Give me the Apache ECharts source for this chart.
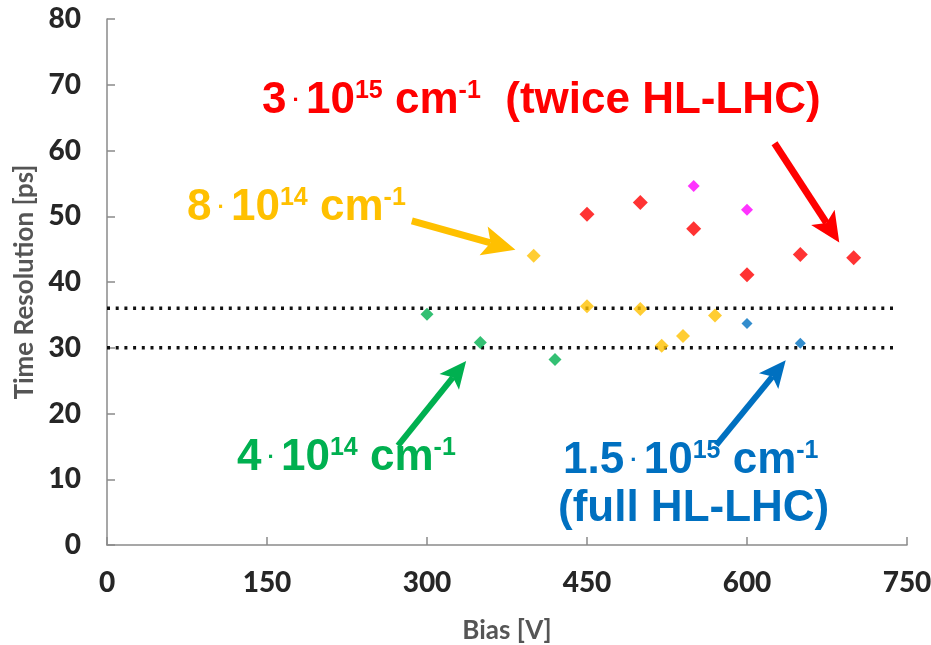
<!DOCTYPE html>
<html><head><meta charset="utf-8">
<script src="https://cdn.jsdelivr.net/npm/echarts@6/dist/echarts.min.js"></script>
<style>html,body{margin:0;padding:0;background:#fff}#c{width:931px;height:645px}</style>
</head><body><div id="c"></div>
<script>
// ---- data ----
const xMin = 0, xMax = 750, xStep = 150;
const yMin = 0, yMax = 80, yStep = 10;
const xName = 'Bias [V]';
const yName = 'Time Resolution [ps]';
// fluence groups: [bias V, time resolution ps]
const fluence4e14 = [[300, 35.1], [350, 30.8], [420, 28.2]];
const fluence8e14 = [[400, 44.0], [450, 36.3], [500, 35.9], [520, 30.3], [540, 31.8], [570, 34.9]];
const fluence15e15 = [[600, 33.7], [650, 30.7]];
const fluence3e15 = [[450, 50.3], [500, 52.1], [550, 48.1], [600, 41.1], [650, 44.2], [700, 43.7]];
const fluence3e15b = [[550, 54.6], [600, 51.0]];
const refLevels = [36, 30];
const refLineEnd = 738;
// annotation arrows in data coordinates: [tail, tip]
const arrowRed = [[625.8, 61.1], [686.5, 46.0]];
const arrowYellow = [[285.8, 49.3], [382.9, 44.9]];
const arrowGreen = [[272.8, 15.1], [336.7, 28.0]];
const arrowBlue = [[571.2, 15.2], [636.3, 28.1]];

const RED = '#FF0000', YEL = '#FFC000', GRN = '#00B050', BLU = '#0070C0', MAG = '#FF00FF';
const axisFont = 'Lato, "Liberation Sans", sans-serif';
const annFont = '"Liberation Sans", Arial, sans-serif';

const chart = echarts.init(document.getElementById('c'), null, {renderer: 'canvas'});

function scatter(name, data, color, size) {
  return {
    name, type: 'scatter', data, symbol: 'diamond', symbolSize: size,
    itemStyle: {color}, z: 3, emphasis: {disabled: true}
  };
}

const axisCommon = {
  axisLine: {show: true, lineStyle: {color: '#8a8a8a', width: 1.5}},
  axisTick: {show: true, inside: true, length: 8, lineStyle: {color: '#8a8a8a', width: 1.5}},
  splitLine: {show: false},
  nameTextStyle: {fontFamily: axisFont, fontWeight: 'bold', fontSize: 26, color: '#555555'}
};

const option = {
  animation: false,
  backgroundColor: '#ffffff',
  grid: {left: 107, right: 24, top: 19, bottom: 100, containLabel: false, outerBoundsMode: 'none'},
  xAxis: Object.assign({
    type: 'value', min: xMin, max: xMax, interval: xStep,
    name: xName, nameLocation: 'middle', nameGap: 73,
    axisLabel: {margin: 24, fontFamily: axisFont, fontWeight: 900, fontSize: 28, color: '#262626'}
  }, axisCommon),
  yAxis: Object.assign({
    type: 'value', min: yMin, max: yMax, interval: yStep,
    name: yName, nameLocation: 'middle', nameGap: 66, nameRotate: 90,
    axisLabel: {margin: 26, fontFamily: axisFont, fontWeight: 900, fontSize: 28, color: '#262626'}
  }, axisCommon),
  series: [
    ...refLevels.map(l => ({
      type: 'line', data: [[xMin, l], [refLineEnd, l]], symbol: 'none', silent: true, z: 2,
      lineStyle: {color: '#111', width: 3.5, type: [3, 5.7], cap: 'butt'}
    })),
    scatter('4e14', fluence4e14, GRN, 13),
    scatter('8e14', fluence8e14, YEL, 14),
    scatter('1.5e15', fluence15e15, BLU, 11),
    scatter('3e15', fluence3e15, RED, 15),
    scatter('3e15b', fluence3e15b, MAG, 12)
  ]
};
chart.setOption(option);

function arrowGraphic(a, color, lw, h, w) {
  const p0 = chart.convertToPixel({gridIndex: 0}, a[0]);
  const p1 = chart.convertToPixel({gridIndex: 0}, a[1]);
  const dx = p1[0] - p0[0], dy = p1[1] - p0[1];
  const L = Math.hypot(dx, dy);
  const ux = dx / L, uy = dy / L, px = -uy, py = ux;
  const bx = p1[0] - ux * h, by = p1[1] - uy * h;
  const nx = p1[0] - ux * h * 0.78, ny = p1[1] - uy * h * 0.78;
  return [
    {type: 'line', z: 10, shape: {x1: p0[0], y1: p0[1], x2: nx, y2: ny}, style: {stroke: color, lineWidth: lw}},
    {type: 'polygon', z: 10, shape: {points: [[p1[0], p1[1]], [bx + px * w / 2, by + py * w / 2], [nx, ny], [bx - px * w / 2, by - py * w / 2]]}, style: {fill: color}}
  ];
}

function richFor(color) {
  return {
    n: {fontFamily: annFont, fontWeight: 'bold', fontSize: 44, lineHeight: 44, color},
    d: {fontFamily: annFont, fontWeight: 'bold', fontSize: 22, color},
    s: {fontFamily: annFont, fontWeight: 'bold', fontSize: 25, lineHeight: 25, verticalAlign: 'top', color}
  };
}
function label(x, y, text, color) {
  return {type: 'text', x, y, z: 11, style: {text, rich: richFor(color), align: 'left', verticalAlign: 'top', fill: color}};
}

const graphics = [
  ...arrowGraphic(arrowRed, RED, 7, 30, 28),
  ...arrowGraphic(arrowYellow, YEL, 7, 33, 30),
  ...arrowGraphic(arrowGreen, GRN, 6, 27, 25),
  ...arrowGraphic(arrowBlue, BLU, 6, 27, 25),
  label(262, 79, '{n|3}{d| · }{n|10}{s|15}{n| cm}{s|-1}{n|  (twice HL-LHC)}', RED),
  label(187, 186, '{n|8}{d| · }{n|10}{s|14}{n| cm}{s|-1}', YEL),
  label(237, 436, '{n|4}{d| · }{n|10}{s|14}{n| cm}{s|-1}', GRN),
  label(563, 439, '{n|1.5}{d| · }{n|10}{s|15}{n| cm}{s|-1}', BLU),
  label(558, 487, '{n|(full HL-LHC)}', BLU)
];
chart.setOption({graphic: graphics});
</script>
</body></html>
